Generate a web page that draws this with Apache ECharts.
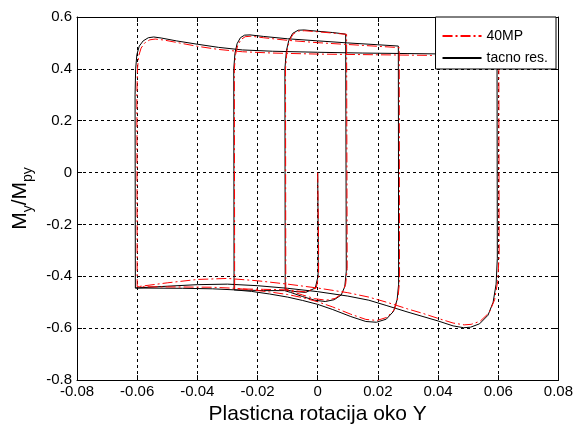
<!DOCTYPE html>
<html>
<head>
<meta charset="utf-8">
<script src="https://cdn.jsdelivr.net/npm/echarts@6/dist/echarts.min.js"></script>
<style>
  html, body { margin: 0; padding: 0; background: #fff; }
  #chart { width: 576px; height: 430px; }
</style>
</head>
<body>
<div id="chart"></div>
<script>
var chart = echarts.init(document.getElementById('chart'));

var seriesNames = ['40MP', 'tacno res.'];
var xTicks = { min: -0.08, max: 0.08, step: 0.02 };
var yTicks = { min: -0.8, max: 0.6, step: 0.2 };

// tacno res. (black) - path pieces, [rotation, My/Mpy]
var tacnoStart = [[0, 0], [0.0002, -0.30], [0.0001, -0.40], [-0.0008, -0.445], [-0.004, -0.462], [-0.008, -0.458], [-0.0108, -0.452]];
var tacnoSmallTop = [[-0.0110, -0.45], [-0.0109, 0.40], [-0.0104, 0.47], [-0.0096, 0.51], [-0.0083, 0.537], [-0.0065, 0.549], [-0.0045, 0.550], [0, 0.545], [0.005, 0.540], [0.0093, 0.534]];
var tacnoSmallBot = [[0.0095, 0.53], [0.0095, -0.38], [0.0090, -0.44], [0.0078, -0.472], [0.0055, -0.490], [0.0025, -0.497], [-0.001, -0.492], [-0.005, -0.478], [-0.009, -0.462], [-0.0110, -0.455], [-0.018, -0.455], [-0.0278, -0.452]];
var tacnoMidTop = [[-0.0279, -0.452], [-0.0279, 0.40], [-0.0275, 0.46], [-0.0268, 0.497], [-0.0257, 0.52], [-0.0243, 0.530], [-0.0225, 0.531], [-0.018, 0.525], [-0.01, 0.516], [0, 0.508], [0.01, 0.500], [0.02, 0.493], [0.0268, 0.488]];
var tacnoMidBot = [[0.0269, 0.485], [0.0269, -0.43], [0.0264, -0.49], [0.0252, -0.535], [0.0228, -0.565], [0.0195, -0.577], [0.016, -0.574], [0.011, -0.555], [0.005, -0.528], [0, -0.508], [-0.005, -0.493], [-0.01, -0.48], [-0.016, -0.468], [-0.022, -0.458], [-0.0279, -0.452], [-0.035, -0.448], [-0.045, -0.446], [-0.0606, -0.445]];
var tacnoBigTop = [[-0.0607, 0.30], [-0.0605, 0.40], [-0.0601, 0.455], [-0.0593, 0.488], [-0.058, 0.508], [-0.0563, 0.520], [-0.0545, 0.523], [-0.052, 0.519], [-0.047, 0.508], [-0.04, 0.495], [-0.033, 0.483], [-0.025, 0.473], [-0.015, 0.468], [0, 0.464], [0.015, 0.461], [0.03, 0.459], [0.045, 0.457], [0.0596, 0.455]];
var tacnoBigBot = [[0.0597, 0.45], [0.0597, -0.33], [0.0593, -0.43], [0.0583, -0.50], [0.0566, -0.55], [0.0538, -0.583], [0.0508, -0.596], [0.0485, -0.598], [0.045, -0.591], [0.04, -0.572], [0.035, -0.555], [0.03, -0.538], [0.023, -0.513], [0.017, -0.492], [0.01, -0.476], [0, -0.459], [-0.01, -0.446], [-0.02, -0.436], [-0.03, -0.43], [-0.04, -0.432], [-0.05, -0.438], [-0.0606, -0.445]];

// 40MP (red)
var mpStart = [[0, 0], [0.0003, -0.30], [0.0003, -0.40], [-0.0005, -0.445], [-0.004, -0.46], [-0.008, -0.455], [-0.0106, -0.45]];
var mpSmallTop = [[-0.0108, -0.45], [-0.0107, 0.40], [-0.0102, 0.47], [-0.0094, 0.51], [-0.0081, 0.535], [-0.0063, 0.546], [-0.0043, 0.547], [0, 0.543], [0.005, 0.538], [0.0096, 0.533]];
var mpSmallBot = [[0.0098, 0.53], [0.0098, -0.37], [0.0093, -0.43], [0.0081, -0.466], [0.0058, -0.485], [0.0028, -0.492], [-0.001, -0.486], [-0.005, -0.472], [-0.009, -0.457], [-0.0108, -0.452], [-0.018, -0.45], [-0.0276, -0.448]];
var mpMidTop = [[-0.0277, -0.448], [-0.0277, 0.40], [-0.0273, 0.455], [-0.0266, 0.49], [-0.0255, 0.513], [-0.0241, 0.524], [-0.0222, 0.526], [-0.018, 0.52], [-0.01, 0.51], [0, 0.501], [0.01, 0.494], [0.02, 0.487], [0.0271, 0.482]];
var mpMidBot = [[0.0272, 0.48], [0.0272, -0.42], [0.0267, -0.48], [0.0255, -0.528], [0.023, -0.558], [0.0197, -0.57], [0.016, -0.566], [0.011, -0.546], [0.005, -0.518], [0, -0.498], [-0.005, -0.482], [-0.01, -0.47], [-0.016, -0.46], [-0.022, -0.452], [-0.0277, -0.446], [-0.035, -0.442], [-0.045, -0.441], [-0.0600, -0.44]];
var mpBigTop = [[-0.0601, 0.30], [-0.0599, 0.40], [-0.0595, 0.45], [-0.0587, 0.48], [-0.0575, 0.50], [-0.0558, 0.512], [-0.054, 0.515], [-0.051, 0.511], [-0.046, 0.50], [-0.04, 0.487], [-0.033, 0.475], [-0.025, 0.466], [-0.015, 0.461], [0, 0.457], [0.015, 0.455], [0.03, 0.453], [0.045, 0.451], [0.0602, 0.449]];
var mpBigBot = [[0.0603, 0.445], [0.0603, -0.32], [0.0598, -0.42], [0.0588, -0.49], [0.057, -0.54], [0.054, -0.573], [0.051, -0.585], [0.0487, -0.587], [0.045, -0.58], [0.04, -0.562], [0.035, -0.543], [0.03, -0.526], [0.023, -0.50], [0.017, -0.48], [0.01, -0.463], [0, -0.445], [-0.01, -0.43], [-0.02, -0.417], [-0.03, -0.408], [-0.04, -0.412], [-0.05, -0.425], [-0.060, -0.44]];

var tacnoPath = [].concat(tacnoStart, tacnoSmallTop, tacnoSmallBot, tacnoMidTop, tacnoMidBot, tacnoBigTop, tacnoBigBot);
var mpPath = [].concat(mpStart, mpSmallTop, mpSmallBot, mpMidTop, mpMidBot, mpBigTop, mpBigBot);

var font = 'Liberation Sans, Arial, sans-serif';

// extra axes just to close the box (top / right), MATLAB style
function boxAxis(type, pos) {
    var t = type === 'x' ? xTicks : yTicks;
    return {
        type: 'value',
        position: pos,
        min: t.min,
        max: t.max,
        interval: t.step,
        axisLine: { show: true, onZero: false, lineStyle: { color: '#000', width: 1 } },
        axisTick: { show: true, inside: true, length: 5, lineStyle: { color: '#000' } },
        axisLabel: { show: false },
        splitLine: { show: false }
    };
}

var option = {
    animation: false,
    backgroundColor: '#fff',
    grid: { left: 77, right: 14, top: 17, bottom: 43 },
    legend: {
        data: seriesNames,
        orient: 'vertical',
        right: 20,
        top: 17,
        backgroundColor: '#fff',
        borderColor: '#000',
        borderWidth: 1,
        borderRadius: 0,
        padding: [12, 8, 4, 6],
        itemWidth: 39,
        itemHeight: 14,
        itemGap: 8,
        itemStyle: { opacity: 0 },
        textStyle: { fontSize: 14, color: '#000', fontFamily: font }
    },
    xAxis: [{
        type: 'value',
        min: xTicks.min,
        max: xTicks.max,
        interval: xTicks.step,
        name: 'Plasticna rotacija oko Y',
        nameLocation: 'middle',
        nameGap: 22,
        nameTextStyle: { fontSize: 21, color: '#000', fontFamily: font },
        axisLine: { onZero: false, lineStyle: { color: '#000', width: 1 } },
        axisTick: { inside: true, length: 5, lineStyle: { color: '#000' } },
        axisLabel: { fontSize: 15, color: '#000', fontFamily: font, margin: 4 },
        splitLine: { show: true, lineStyle: { color: '#000', width: 1, type: [3, 3] } }
    }, boxAxis('x', 'top')],
    yAxis: [{
        type: 'value',
        min: yTicks.min,
        max: yTicks.max,
        interval: yTicks.step,
        name: '{m|M}{s|y}{m|/M}{s|py}',
        nameLocation: 'middle',
        nameRotate: 90,
        nameGap: 36,
        nameTextStyle: {
            color: '#000',
            fontFamily: font,
            rich: {
                m: { fontSize: 21, lineHeight: 22, verticalAlign: 'top', fontFamily: font, color: '#000' },
                s: { fontSize: 14, lineHeight: 14, verticalAlign: 'top', padding: [12, 0, 0, 0], fontFamily: font, color: '#000' }
            }
        },
        axisLine: { onZero: false, lineStyle: { color: '#000', width: 1 } },
        axisTick: { inside: true, length: 5, lineStyle: { color: '#000' } },
        axisLabel: { fontSize: 15, color: '#000', fontFamily: font, margin: 5 },
        splitLine: { show: true, lineStyle: { color: '#000', width: 1, type: [3, 3] } }
    }, boxAxis('y', 'right')],
    series: [{
        name: seriesNames[0],
        type: 'line',
        xAxisIndex: 0,
        yAxisIndex: 0,
        data: mpPath,
        symbol: 'none',
        z: 3,
        lineStyle: { color: '#ff0000', width: 1, type: [10, 3, 2, 3] },
        itemStyle: { color: '#ff0000' }
    }, {
        name: seriesNames[1],
        type: 'line',
        xAxisIndex: 0,
        yAxisIndex: 0,
        data: tacnoPath,
        symbol: 'none',
        z: 2,
        lineStyle: { color: '#000', width: 1 },
        itemStyle: { color: '#000' }
    }]
};

chart.setOption(option);
</script>
</body>
</html>
